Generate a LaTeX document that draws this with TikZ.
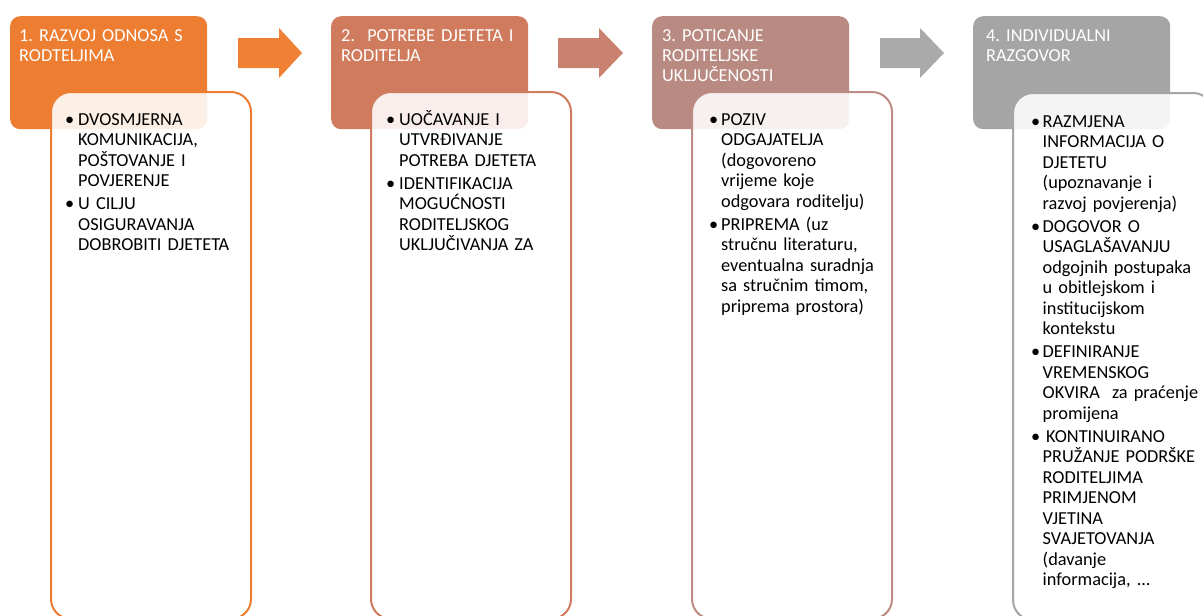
\documentclass[tikz,border=0pt]{standalone}
\usepackage{fontspec}
\setmainfont{Carlito}
\frenchspacing
\definecolor{cA}{HTML}{ED7D31}
\definecolor{cB}{HTML}{D17B5E}
\definecolor{cC}{HTML}{B98A82}
\definecolor{cD}{HTML}{A5A5A5}
\definecolor{aA}{HTML}{EF8034}
\definecolor{aB}{HTML}{C98170}
\definecolor{aC}{HTML}{AAAAAA}
\definecolor{bC}{HTML}{BC8B84}
\newcommand\bfirst[1]{\noindent\llap{\makebox[#1]{•}}}
\newcommand\bnext[1]{\par\vspace{2.5pt}\noindent\llap{\makebox[#1]{•}}}
\tikzset{
  head/.style={rectangle, rounded corners=10pt, anchor=north west, inner sep=0pt,
    minimum width=197pt, minimum height=113pt},
  body/.style={rectangle, rounded corners=20pt, anchor=north west, inner sep=0pt,
    minimum width=200pt, minimum height=527pt, fill=white, fill opacity=0.88, line width=2pt},
  htext/.style={anchor=base west, inner sep=0pt, text=white, text width=190pt, align=left,
    font=\fontsize{18.3}{20}\selectfont\frenchspacing},
  btext/.style={anchor=base west, inner sep=0pt, text=black, text width=200pt, align=left,
    font=\fontsize{18.3}{20.5}\selectfont\frenchspacing},
}
\begin{document}
\begin{tikzpicture}[x=1pt,y=-1pt]
\useasboundingbox (0,0) rectangle (1203,616);
\clip (0,0) rectangle (1203,616);
% headers
\node[head, fill=cA] (h1) at (10,16) {};
\node[head, fill=cB] (h2) at (331,16) {};
\node[head, fill=cC] (h3) at (652,16) {};
\node[head, fill=cD] (h4) at (973,16) {};
\node[htext] (ht1) at (19,41) {1. RAZVOJ ODNOSA S\\RODTELJIMA};
\node[htext] (ht2) at (341,41) {2.\ \ POTREBE DJETETA I\\RODITELJA};
\node[htext] (ht3) at (662,41) {3. POTICANJE\\RODITELJSKE\\UKLJUČENOSTI};
\node[htext] (ht4) at (986,41) {4. INDIVIDUALNI\\RAZGOVOR};
% block arrows
\fill[aA] (238,38) -- (279,38) -- (279,28) -- (302,53) -- (279,78) -- (279,68) -- (238,68) -- cycle;
\fill[aB] (558,38) -- (599,38) -- (599,28) -- (623,53) -- (599,78) -- (599,68) -- (558,68) -- cycle;
\fill[aC] (880,38) -- (920,38) -- (920,28) -- (944,53) -- (920,78) -- (920,68) -- (880,68) -- cycle;
% bodies
\node[body, draw=cA] (b1) at (50,91) {};
\node[body, draw=cB] (b2) at (370,91) {};
\node[body, draw=bC] (b3) at (691,91) {};
\node[body, draw=cD] (b4) at (1012,92) {};
\node[btext] (t1) at (78,125) {\bfirst{17pt}DVOSMJERNA\\KOMUNIKACIJA,\\POŠTOVANJE I\\POVJERENJE%
\bnext{17pt}U CILJU\\OSIGURAVANJA\\DOBROBITI DJETETA};
\node[btext] (t2) at (399,125) {\bfirst{17pt}UOČAVANJE I\\UTVRĐIVANJE\\POTREBA DJETETA%
\bnext{17pt}IDENTIFIKACIJA\\MOGUĆNOSTI\\RODITELJSKOG\\UKLJUČIVANJA ZA};
\node[btext] (t3) at (721,125) {\bfirst{15pt}POZIV\\ODGAJATELJA\\(dogovoreno\\vrijeme koje\\odgovara roditelju)%
\bnext{15pt}PRIPREMA (uz\\stručnu literaturu,\\eventualna suradnja\\sa stručnim timom,\\priprema prostora)};
\node[btext] (t4) at (1042.5,127) {\bfirst{14pt}RAZMJENA\\INFORMACIJA O\\DJETETU\\(upoznavanje i\\razvoj povjerenja)%
\bnext{14pt}DOGOVOR O\\USAGLAŠAVANJU\\odgojnih postupaka\\u obitlejskom i\\institucijskom\\kontekstu%
\bnext{14pt}DEFINIRANJE\\VREMENSKOG\\OKVIRA\ \ za praćenje\\promijena%
\bnext{14pt}\hspace{3.5pt}KONTINUIRANO\\PRUŽANJE PODRŠKE\\RODITELJIMA\\PRIMJENOM\\VJETINA\\SVAJETOVANJA\\(davanje\\informacija, ...};
\end{tikzpicture}
\end{document}
